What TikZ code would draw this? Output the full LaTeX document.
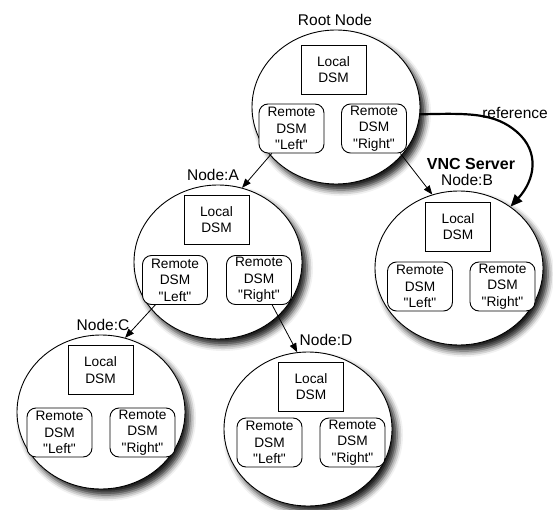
\documentclass[tikz,border=0pt]{standalone}
\usepackage{fontspec}
\setmainfont{Liberation Sans}[Ligatures=TeXOff]
\usetikzlibrary{shapes.geometric,shadows.blur,arrows.meta,calc}
\tikzset{
  dsmnode/.style={ellipse, draw, line width=0.9pt, fill=white, minimum width=168pt, minimum height=154pt, inner sep=0pt,
    blur shadow={shadow xshift=5pt, shadow yshift=-6pt, shadow blur radius=6pt, shadow opacity=90}},
  localbox/.style={draw, line width=0.9pt, fill=white, minimum width=65pt, minimum height=49pt, inner sep=0pt, align=center,
    font=\fontsize{13.7}{16.5}\selectfont},
  remotebox/.style={localbox, rounded corners=9pt},
  lbl/.style={font=\fontsize{15.5}{18}\selectfont, inner sep=0pt},
  link/.style={line width=0.8pt, -{Triangle[length=9pt,width=7pt]}},
  refarrow/.style={line width=2.2pt, -{Triangle[length=12pt,width=10pt]}}
}
\begin{document}
\begin{tikzpicture}[x=1pt,y=-1pt]
\useasboundingbox (0,0) rectangle (553,510);
% circles
\node[dsmnode] (root) at (336,107) {};
\node[dsmnode] (A) at (218,262) {};
\node[dsmnode] (B) at (459,268) {};
\node[dsmnode] (C) at (101,412) {};
\node[dsmnode] (D) at (308,429) {};
% root
\node[localbox] (rootL) at (333.5,69.5) {Local\\DSM};
\node[remotebox] (rootRL) at (291.5,128.5) {Remote\\DSM\\"Left"};
\node[remotebox] (rootRR) at (374,128.5) {Remote\\DSM\\"Right"};
% A
\node[localbox] (AL) at (216.5,219.5) {Local\\DSM};
\node[remotebox] (ARL) at (175,280) {Remote\\DSM\\"Left"};
\node[remotebox] (ARR) at (259,280) {Remote\\DSM\\"Right"};
% B
\node[localbox] (BL) at (458,226.5) {Local\\DSM};
\node[remotebox] (BRL) at (420,286.5) {Remote\\DSM\\"Left"};
\node[remotebox] (BRR) at (502.5,286.5) {Remote\\DSM\\"Right"};
% C
\node[localbox] (CL) at (100.5,370) {Local\\DSM};
\node[remotebox] (CRL) at (59.5,432.5) {Remote\\DSM\\"Left"};
\node[remotebox] (CRR) at (142.5,432.5) {Remote\\DSM\\"Right"};
% D
\node[localbox] (DL) at (311,386.5) {Local\\DSM};
\node[remotebox] (DRL) at (269.5,442.5) {Remote\\DSM\\"Left"};
\node[remotebox] (DRR) at (352.5,442.5) {Remote\\DSM\\"Right"};
% labels
\node[lbl] (rootlbl) at (335,20) {Root Node};
\node[lbl] (Albl) at (213,175) {Node:A};
\node[lbl] (Clbl) at (103,325) {Node:C};
\node[lbl] (Dlbl) at (326,340) {Node:D};
\node[lbl] (Blbl) at (467,180) {Node:B};
\node[lbl, font=\fontsize{16}{18}\selectfont\bfseries] (vnc) at (471,164) {VNC Server};
\node[lbl] (reflbl) at (515,113) {reference};
% connectors
\draw[link] ($(rootRL.south)!0.6!(rootRL.south west)$) -- (A.72);
\draw[link] ($(rootRR.south)!0.8!(rootRR.south east)$) -- (B.110);
\draw[link] ($(ARL.south)!0.6!(ARL.south west)$) -- (C.72);
\draw[link] ($(ARR.south)!0.4!(ARR.south east)$) -- (D.98);
\draw[refarrow] (root.-5) .. controls (470,113) and (495,113) .. (517,132) .. controls (540,152) and (535,180) .. (B.50);
\end{tikzpicture}
\end{document}
